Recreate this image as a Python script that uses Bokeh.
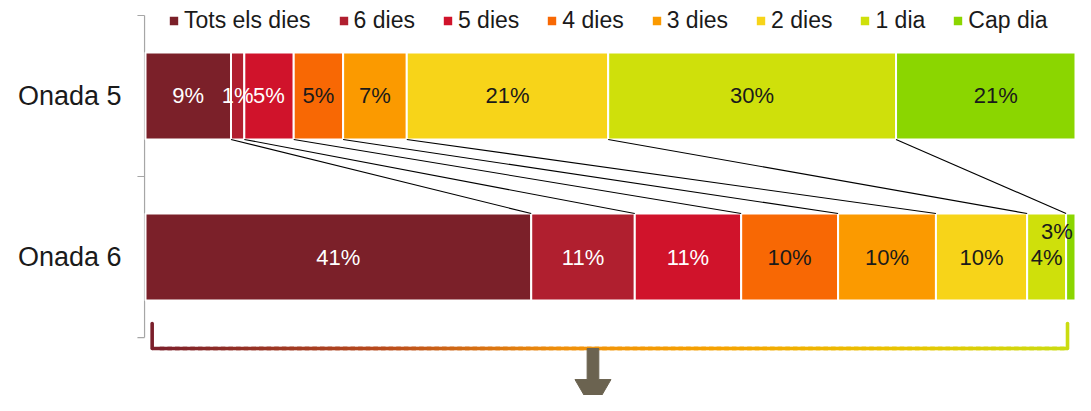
from bokeh.plotting import figure
from bokeh.models import ColumnDataSource, FixedTicker, Legend, LegendItem
from bokeh.core.properties import value
from bokeh.embed import file_html
from bokeh.resources import INLINE

# ---- data ----
waves = ["Onada 5", "Onada 6"]
series = ["Tots els dies", "6 dies", "5 dies", "4 dies", "3 dies", "2 dies", "1 dia", "Cap dia"]
onada5 = [9.0, 1.4, 5.2, 5.2, 6.7, 21.2, 30.3, 21.0]
onada6 = [40.6, 10.9, 11.2, 10.2, 10.3, 9.6, 4.1, 3.1]
colors = ["#7B2029", "#B01F2F", "#D0132B", "#F86804", "#FB9A00", "#F7D419", "#CFE00B", "#8BD600"]
label_colors = ["white", "white", "white", "#1a1a1a", "#1a1a1a", "#1a1a1a", "#1a1a1a", "#1a1a1a"]
FONT = "Liberation Sans"

wave_y = [1.5, 0.5]
BAR_H = 0.54

p = figure(width=1075, height=395, output_backend="svg", toolbar_location=None,
           x_range=(-1.58, 97.89), y_range=(-0.36, 2.093))
p.min_border_left = 130
p.min_border_right = 0
p.min_border_top = 0
p.min_border_bottom = 0
p.outline_line_color = None
p.grid.visible = False
p.xaxis.visible = False
p.background_fill_color = "white"

yax = p.yaxis[0]
yax.ticker = FixedTicker(ticks=wave_y)
yax.major_label_overrides = {wave_y[0]: waves[0], wave_y[1]: waves[1]}
yax.axis_line_color = None
yax.major_tick_in = 0
yax.major_tick_out = 0
yax.minor_tick_in = 0
yax.minor_tick_out = 0
yax.major_label_standoff = 9
yax.major_label_text_font = FONT
yax.major_label_text_font_size = "27px"
yax.major_label_text_color = "#1a1a1a"

# custom axis line with band ticks
p.segment(x0=[-0.1], y0=[0], x1=[-0.1], y1=[2], line_color="#A6A6A6", line_width=1.2)
p.segment(x0=[-0.85] * 3, y0=[0, 1, 2], x1=[-0.1] * 3, y1=[0, 1, 2], line_color="#A6A6A6", line_width=1.2)

# ---- stacked bars ----
data = {"y": wave_y}
for i, s in enumerate(series):
    data[s] = [onada5[i], onada6[i]]
src = ColumnDataSource(data)
rs = p.hbar_stack(series, y="y", height=BAR_H, fill_color=colors, line_color="white",
                  line_width=2, source=src)

# ---- series (connector) lines ----
cum5, cum6 = [], []
a = b = 0.0
for v5, v6 in zip(onada5, onada6):
    a += v5
    b += v6
    cum5.append(a)
    cum6.append(b)
n = len(series) - 1
p.segment(x0=cum5[:n], y0=[wave_y[0] - BAR_H / 2] * n, x1=cum6[:n], y1=[wave_y[1] + BAR_H / 2] * n,
          line_color="black", line_width=1.1)

# ---- data labels ----
lx, ly, lt, lc, xo, yo = [], [], [], [], [], []
for vals, cums, yy in ((onada5, cum5, wave_y[0]), (onada6, cum6, wave_y[1])):
    for i, v in enumerate(vals):
        lx.append(cums[i] - v / 2)
        ly.append(yy)
        lt.append(f"{round(v)}%")
        lc.append(label_colors[i])
        xo.append(0)
        yo.append(0)
# the last small label of the second bar is nudged up-left as in the original
xo[-1] = -24
yo[-1] = -26
lsrc = ColumnDataSource(dict(x=lx, y=ly, t=lt, c=lc, xo=xo, yo=yo))
p.text(x="x", y="y", text="t", text_color="c", x_offset="xo", y_offset="yo", source=lsrc,
       text_align="center", text_baseline="middle", text_font=value(FONT), text_font_size="22px")

# ---- gradient bracket ----
stops = [(0.0, (0x7B, 0x1F, 0x2B)), (0.25, (0xB8, 0x4A, 0x1C)), (0.45, (0xF0, 0x90, 0x0A)),
         (0.62, (0xF5, 0xA2, 0x00)), (0.82, (0xE8, 0xC4, 0x00)), (1.0, (0xCA, 0xDC, 0x10))]


def grad(t):
    for (t0, c0), (t1, c1) in zip(stops[:-1], stops[1:]):
        if t <= t1:
            f = (t - t0) / (t1 - t0) if t1 > t0 else 0
            return "#%02x%02x%02x" % tuple(int(round(c0[k] + (c1[k] - c0[k]) * f)) for k in range(3))
    return "#%02x%02x%02x" % stops[-1][1]


bx0 = 0.7
bx1 = cum6[n - 1] + 0.15
by = -0.068
byt = 0.087
N = 120
step = (bx1 - bx0) / N
gx0, gx1, gc = [], [], []
for k in range(N):
    t0 = k / N
    t1 = (k + 1) / N
    gx0.append(bx0 + (bx1 - bx0) * t0)
    gx1.append(min(bx1, bx0 + (bx1 - bx0) * t1 + step * 0.6))
    gc.append(grad((t0 + t1) / 2))
p.segment(x0=[bx0, bx1], y0=[byt, byt], x1=[bx0, bx1], y1=[by, by], line_color=[grad(0), grad(1)],
          line_width=3.6, line_cap="round")
p.segment(x0=gx0, y0=[by] * N, x1=gx1, y1=[by] * N, line_color=gc, line_width=3.6, line_cap="butt")

# ---- arrow ----
cx, sw, hw = 47.1, 1.23, 3.79
top, mid, tip = by, -0.261, -0.453
p.patch(x=[cx - sw / 2, cx + sw / 2, cx + sw / 2, cx + hw / 2, cx, cx - hw / 2, cx - sw / 2],
        y=[top, top, mid, mid, tip, mid, mid], fill_color="#6B6350", line_color="#6B6350")

# ---- legend ----
items = [LegendItem(label=s, renderers=[r]) for s, r in zip(series, rs)]
legend = Legend(items=items, orientation="horizontal", location=(37, 361), glyph_width=13,
                glyph_height=13, label_standoff=4, spacing=26, padding=0, margin=0,
                border_line_color=None, background_fill_alpha=0, label_text_font=FONT,
                label_text_font_size="23px", label_text_color="#1a1a1a")
p.add_layout(legend)

open("out.html", "w").write(file_html(p, INLINE))
